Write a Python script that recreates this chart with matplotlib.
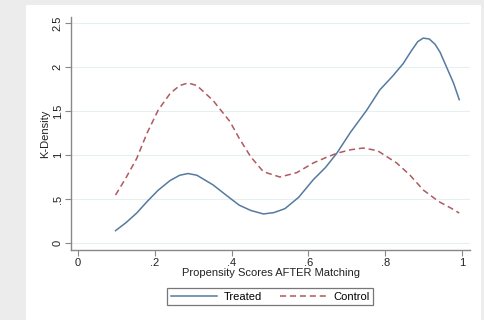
import matplotlib
matplotlib.use("Agg")
import matplotlib.pyplot as plt
from matplotlib.patches import Rectangle
from matplotlib.lines import Line2D

plt.rcParams['font.family'] = ['Liberation Sans', 'DejaVu Sans']

# kernel density curves
treated_x = [0.098, 0.125, 0.153, 0.18, 0.209, 0.24, 0.265, 0.287, 0.31, 0.352, 0.396,
             0.42, 0.45, 0.483, 0.51, 0.539, 0.575, 0.613, 0.645, 0.674, 0.71, 0.752, 0.786,
             0.82, 0.847, 0.869, 0.885, 0.899, 0.915, 0.93, 0.943, 0.96, 0.978, 0.993]
treated_y = [0.14, 0.23, 0.34, 0.47, 0.60, 0.71, 0.77, 0.79, 0.77, 0.66, 0.51,
             0.43, 0.37, 0.33, 0.345, 0.39, 0.52, 0.72, 0.86, 1.02, 1.26, 1.51, 1.74,
             1.90, 2.04, 2.19, 2.29, 2.33, 2.32, 2.26, 2.17, 2.00, 1.82, 1.63]

control_x = [0.098, 0.125, 0.153, 0.18, 0.209, 0.24, 0.265, 0.287, 0.31, 0.352, 0.396,
             0.42, 0.45, 0.483, 0.526, 0.57, 0.613, 0.645, 0.674, 0.71, 0.743, 0.78,
             0.83, 0.865, 0.9, 0.94, 0.97, 0.993]
control_y = [0.545, 0.74, 0.96, 1.25, 1.51, 1.70, 1.79, 1.82, 1.79, 1.62, 1.38,
             1.19, 0.98, 0.81, 0.75, 0.80, 0.91, 0.97, 1.02, 1.06, 1.08, 1.05,
             0.91, 0.77, 0.60, 0.47, 0.40, 0.34]

x_ticks = [0, 0.2, 0.4, 0.6, 0.8, 1.0]
x_labels = ["0", ".2", ".4", ".6", ".8", "1"]
y_ticks = [0, 0.5, 1, 1.5, 2, 2.5]
y_labels = ["0", ".5", "1", "1.5", "2", "2.5"]

blue = "#557aa0"
red = "#b0595e"
axis_gray = "#888888"
txt = "#222222"

fig = plt.figure(figsize=(4.85, 3.2), dpi=100, facecolor="#ececec")
panel = Rectangle((26 / 485, 0), (481 - 26) / 485, 315 / 320,
                  transform=fig.transFigure, facecolor="white",
                  edgecolor="none", zorder=-10)
fig.add_artist(panel)

ax = fig.add_axes([71 / 485, 70 / 320, 399 / 485, 233 / 320])
ax.set_facecolor("white")
ax.plot(treated_x, treated_y, color=blue, lw=1.1, label="Treated")
ax.plot(control_x, control_y, color=red, lw=1.1, ls=(0, (4, 2.5)), label="Control")

ax.set_xlim(-0.018, 1.021)
ax.set_ylim(-0.08, 2.57)
ax.set_xticks(x_ticks)
ax.set_xticklabels(x_labels, fontsize=8, color=txt)
ax.set_yticks(y_ticks)
ax.set_yticklabels(y_labels, fontsize=8, color=txt, rotation=90, va="center")
ax.tick_params(direction="out", length=4, width=0.8, color=axis_gray, pad=2)
ax.grid(axis="y", color="#e6f0f1", lw=0.8)
ax.set_axisbelow(True)
for s in ["top", "right"]:
    ax.spines[s].set_visible(False)
for s in ["left", "bottom"]:
    ax.spines[s].set_color(axis_gray)
    ax.spines[s].set_linewidth(1.0)

ax.set_xlabel("Propensity Scores AFTER Matching", fontsize=8, color=txt, labelpad=0)
ax.set_ylabel("K-Density", fontsize=8, color=txt, labelpad=2)

handles = [Line2D([], [], color=blue, lw=1.1),
           Line2D([], [], color=red, lw=1.1, ls=(0, (4, 2.5)))]
leg = fig.legend(handles, ["Treated", "Control"], loc="center",
                 bbox_to_anchor=(270 / 485, 1 - 296.5 / 320), ncol=2,
                 fontsize=8, frameon=True, fancybox=False, handlelength=4.2,
                 columnspacing=1.6, handletextpad=0.6, borderpad=0.35)
leg.get_frame().set_edgecolor("#555555")
leg.get_frame().set_linewidth(0.9)

fig.savefig("out.png", dpi=100, facecolor=fig.get_facecolor())
